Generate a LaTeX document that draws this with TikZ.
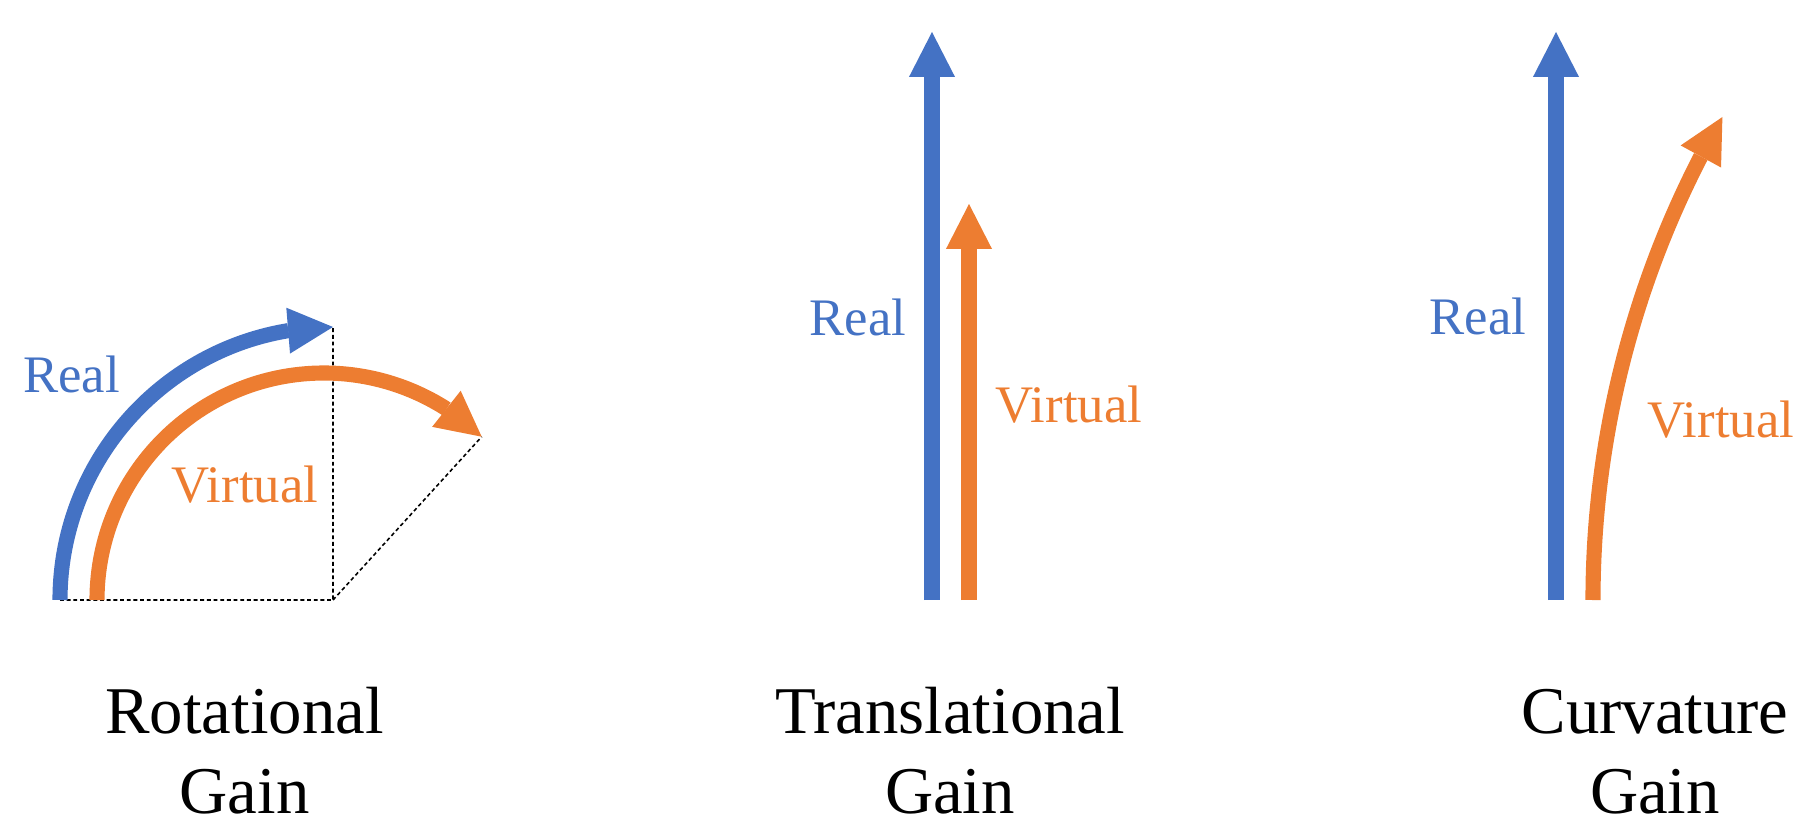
\documentclass[tikz,border=0pt]{standalone}
\usepackage{fontspec}
\setmainfont{Liberation Serif}
\usetikzlibrary{arrows.meta,bending}
\definecolor{realblue}{HTML}{4472C4}
\definecolor{virtorange}{HTML}{ED7D31}

\begin{document}
\begin{tikzpicture}[
		move/.style={line width=4.3pt,-{Triangle[length=12.8pt,width=13.1pt,line width=0pt,flex]}},
		guide/.style={line width=0.45pt,dash pattern=on 1.1pt off 0.8pt},
		lbl/.style={anchor=base,inner sep=0pt,font=\fontsize{15}{18}\selectfont},
		gain/.style={anchor=base,inner sep=0pt,font=\fontsize{19}{23}\selectfont}]
	\useasboundingbox (0,0) rectangle (18,8.19);
	% rotational gain: real quarter turn vs. longer virtual turn
	\coordinate (rotO) at (3.33,2.19);
	\coordinate (rotRealStart) at (0.60,2.19);
	\coordinate (rotVirtStart) at (0.97,2.19);
	\path (rotRealStart) arc[start angle=180,end angle=90,radius=2.73] coordinate (rotRealTip);
	\path (rotVirtStart) arc[start angle=180,end angle=46,radius=2.27] coordinate (rotVirtTip);
	\draw[guide] (rotRealStart) -- (rotO) -- (rotRealTip);
	\draw[guide] (rotO) -- (rotVirtTip);
	\draw[move,realblue] (rotRealStart) arc[start angle=180,end angle=90,radius=2.73];
	\draw[move,virtorange] (rotVirtStart) arc[start angle=180,end angle=46,radius=2.27];
	\node[lbl,realblue] (rotReal) at (0.715,4.27) {Real};
	\node[lbl,virtorange] (rotVirt) at (2.45,3.17) {Virtual};
	% translational gain: same direction, shorter virtual walk
	\coordinate (trRealStart) at (9.32,2.19);
	\coordinate (trRealTip) at (9.32,7.87);
	\coordinate (trVirtStart) at (9.69,2.19);
	\coordinate (trVirtTip) at (9.69,6.15);
	\draw[move,realblue] (trRealStart) -- (trRealTip);
	\draw[move,virtorange] (trVirtStart) -- (trVirtTip);
	\node[lbl,realblue] (trReal) at (8.58,4.84) {Real};
	\node[lbl,virtorange] (trVirt) at (10.69,3.96) {Virtual};
	% curvature gain: straight real path, bent virtual path
	\coordinate (cvRealStart) at (15.56,2.19);
	\coordinate (cvRealTip) at (15.56,7.87);
	\coordinate (cvVirtStart) at (15.93,2.19);
	\draw[move,realblue] (cvRealStart) -- (cvRealTip);
	\draw[move,virtorange] (cvVirtStart) arc[start angle=180,end angle=150,radius=9.66];
	\node[lbl,realblue] (cvReal) at (14.78,4.85) {Real};
	\node[lbl,virtorange] (cvVirt) at (17.21,3.82) {Virtual};
	% captions
	\foreach \x/\name/\txt in {2.445/rot/Rotational,9.50/tr/Translational,16.55/cv/Curvature} {
		\node[gain] (\name Title) at (\x,0.86) {\txt};
		\node[gain] (\name Gain) at (\x,0.06) {Gain};
	}
\end{tikzpicture}
\end{document}
